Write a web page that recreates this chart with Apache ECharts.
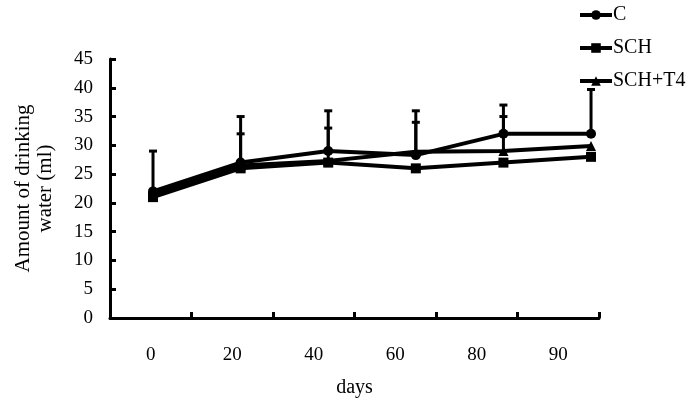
<!DOCTYPE html>
<html>
<head>
<meta charset="utf-8">
<script src="https://cdn.jsdelivr.net/npm/echarts@6/dist/echarts.min.js"></script>
<style>html,body{margin:0;padding:0;background:#fff;}#c{width:689px;height:407px;}</style>
</head>
<body>
<div id="c"></div>
<script>
var categories = ['0', '20', '40', '60', '80', '90'];
var seriesNames = ['C', 'SCH', 'SCH+T4'];
var valuesC = [22, 27, 29, 28.3, 32, 32];
var valuesSCH = [21, 26, 27, 26, 27, 28];
var valuesSCHT4 = [21.5, 26.5, 27.3, 28.9, 29, 29.9];
var errTopC = [29, 35, 36, 36, 37, 39.7];
var errTopSCHT4 = [null, 32, 33, 34, 35, null];
var yTicks = {min: 0, max: 45, interval: 5};

var FONT = 'Liberation Serif';
function pts(vals) { return vals.map(function (v, i) { return [i, v]; }); }
function errData(base, tops) {
  var out = [];
  tops.forEach(function (t, i) { if (t != null) out.push([i, base[i], t]); });
  return out;
}
function renderErr(params, api) {
  var x = api.value(0);
  var p0 = api.coord([x, api.value(1)]);
  var p1 = api.coord([x, api.value(2)]);
  var st = {stroke: '#000', lineWidth: 3};
  return {type: 'group', children: [
    {type: 'line', shape: {x1: p0[0], y1: p0[1], x2: p1[0], y2: p1[1]}, style: st},
    {type: 'line', shape: {x1: p1[0] - 4, y1: p1[1], x2: p1[0] + 4, y2: p1[1]}, style: {stroke: '#000', lineWidth: 3}}
  ]};
}
var chart = echarts.init(document.getElementById('c'), null, {renderer: 'canvas'});
var lineStyle = {color: '#000', width: 4};
chart.setOption({
  animation: false,
  backgroundColor: '#fff',
  textStyle: {fontFamily: FONT, color: '#000'},
  grid: {left: 110, right: 90, top: 59, bottom: 89, containLabel: false, outerBoundsMode: 'none'},
  legend: {
    orient: 'vertical', left: 573, top: 0, itemWidth: 32, itemHeight: 12, itemGap: 13,
    lineStyle: {width: 4, color: '#000'},
    textStyle: {fontFamily: FONT, fontSize: 20, color: '#000', padding: [0, 0, 0, -4]},
    data: seriesNames
  },
  xAxis: [{
    type: 'category', data: categories, boundaryGap: true,
    name: 'days', nameLocation: 'middle', nameGap: 60,
    nameTextStyle: {fontFamily: FONT, fontSize: 20, color: '#000'},
    axisLine: {show: true, onZero: false, lineStyle: {color: '#000', width: 3}},
    axisTick: {show: true, interval: 0, inside: true, length: 6, lineStyle: {color: '#000', width: 3}},
    axisLabel: {fontFamily: FONT, fontSize: 19, color: '#000', margin: 28},
    splitLine: {show: false}
  }, {
    type: 'value', min: -0.491, max: 5.091, show: false, position: 'bottom'
  }],
  yAxis: {
    type: 'value', min: yTicks.min, max: yTicks.max, interval: yTicks.interval,
    name: 'Amount of drinking\nwater (ml)', nameLocation: 'middle', nameGap: 54, nameRotate: 90,
    nameTextStyle: {fontFamily: FONT, fontSize: 21, color: '#000', lineHeight: 22, align: 'center'},
    axisLine: {show: true, onZero: false, lineStyle: {color: '#000', width: 3}},
    axisTick: {show: true, inside: true, length: 6, lineStyle: {color: '#000', width: 3}},
    axisLabel: {fontFamily: FONT, fontSize: 19, color: '#000', margin: 17},
    splitLine: {show: false}
  },
  series: [
    {type: 'custom', xAxisIndex: 1, renderItem: renderErr, data: errData(valuesC, errTopC), z: 1, silent: true},
    {type: 'custom', xAxisIndex: 1, renderItem: renderErr, data: errData(valuesSCHT4, errTopSCHT4), z: 1, silent: true},
    {name: 'C', type: 'line', xAxisIndex: 1, data: pts(valuesC), symbol: 'circle', symbolSize: 10,
     lineStyle: lineStyle, itemStyle: {color: '#000'}, z: 3},
    {name: 'SCH', type: 'line', xAxisIndex: 1, data: pts(valuesSCH), symbol: 'rect', symbolSize: 10,
     lineStyle: lineStyle, itemStyle: {color: '#000'}, z: 3},
    {name: 'SCH+T4', type: 'line', xAxisIndex: 1, data: pts(valuesSCHT4), symbol: 'triangle', symbolSize: 10,
     lineStyle: lineStyle, itemStyle: {color: '#000'}, z: 3}
  ]
});
</script>
</body>
</html>
